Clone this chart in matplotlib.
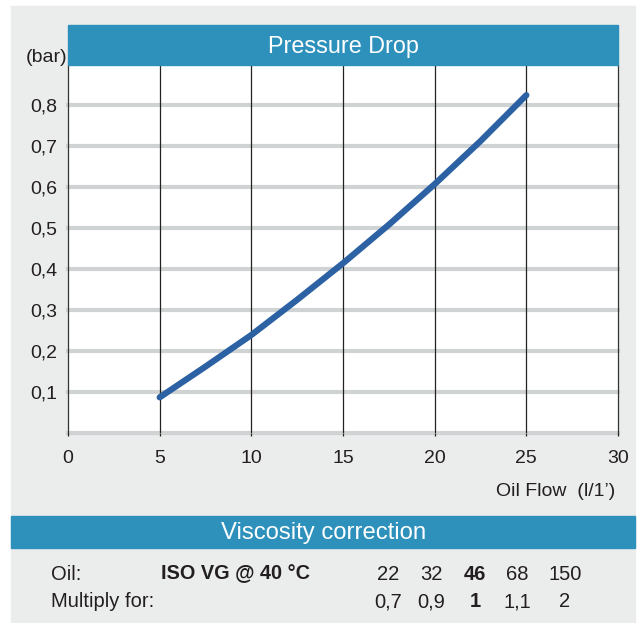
import matplotlib
matplotlib.use("Agg")
import matplotlib.pyplot as plt
from matplotlib.patches import Rectangle
from matplotlib.ticker import FuncFormatter

plt.rcParams['font.family'] = ['Liberation Sans', 'DejaVu Sans']

# curve
flow = [5, 7.5, 10, 12.5, 15, 17.5, 20, 22.5, 25]
pressure = [0.087, 0.162, 0.239, 0.325, 0.414, 0.508, 0.607, 0.712, 0.824]

x_ticks = [0, 5, 10, 15, 20, 25, 30]
y_ticks = [0.1, 0.2, 0.3, 0.4, 0.5, 0.6, 0.7, 0.8]

oil_grades = ['22', '32', '46', '68', '150']
multipliers = ['0,7', '0,9', '1', '1,1', '2']
bold_grade = '46'

W, H = 638, 623
BLUE_BAR = '#2d91bc'
PANEL = '#ebecec'
GRID = '#d0d3d4'
CURVE = '#2c62a3'
TXT = '#231f20'


def fx(px):
    return px / W


def fy(py):
    return 1 - py / H


fig = plt.figure(figsize=(W / 100, H / 100), dpi=100)
fig.patch.set_facecolor('white')

# grey panel and header bars
fig.patches.append(Rectangle((fx(11), 0), fx(635) - fx(11), fy(6),
                             transform=fig.transFigure, color=PANEL, zorder=-5))
fig.patches.append(Rectangle((fx(68), fy(65)), fx(618) - fx(68), fy(25) - fy(65),
                             transform=fig.transFigure, color=BLUE_BAR, zorder=1))
fig.patches.append(Rectangle((fx(11), fy(548)), fx(635) - fx(11), fy(516) - fy(548),
                             transform=fig.transFigure, color=BLUE_BAR, zorder=1))

ax = fig.add_axes([fx(68), fy(433), fx(618) - fx(68), fy(65) - fy(433)])
ax.set_zorder(0)
ax.set_facecolor('white')
ax.set_xlim(0, 30)
ax.set_ylim(0, 0.8976)

for v in [0] + y_ticks:
    ax.axhline(v, color=GRID, lw=3, zorder=1, clip_on=False)
for v in x_ticks[1:-1]:
    ax.axvline(v, color='#222222', lw=0.9, zorder=2)

ax.plot(flow, pressure, color=CURVE, lw=4.5, solid_capstyle='round',
        solid_joinstyle='round', zorder=3)

for s in ['top', 'bottom']:
    ax.spines[s].set_visible(False)
for s in ['left', 'right']:
    ax.spines[s].set_color('#333333')
    ax.spines[s].set_linewidth(0.9)

ax.set_xticks(x_ticks)
ax.set_yticks(y_ticks)
ax.yaxis.set_major_formatter(FuncFormatter(lambda v, p: f"{v:.1f}".replace('.', ',')))
ax.tick_params(axis='x', length=2.5, width=0.9, color='#222222', pad=9.5,
               labelsize=14, labelcolor=TXT)
ax.tick_params(axis='y', length=0, pad=8, labelsize=14, labelcolor=TXT)

fig.text(fx(343), fy(46.5), 'Pressure Drop', color='white', fontsize=16.8,
         ha='center', va='center')
fig.text(fx(67), fy(57), '(bar)', color=TXT, fontsize=14, ha='right', va='center')
fig.text(fx(615), fy(492), 'Oil Flow  (l/1’)', color=TXT, fontsize=14,
         ha='right', va='center')
fig.text(fx(324), fy(533.5), 'Viscosity correction', color='white', fontsize=17.2,
         ha='center', va='center')

fig.text(fx(51), fy(574), 'Oil:', color=TXT, fontsize=14.5, ha='left', va='center')
fig.text(fx(161), fy(574), 'ISO VG @ 40 °C', color=TXT, fontsize=14.3,
         fontweight='bold', ha='left', va='center')
fig.text(fx(51), fy(601.5), 'Multiply for:', color=TXT, fontsize=14.5,
         ha='left', va='center')

col_x = [388, 431, 475, 517, 565]
for cx, g, m in zip(col_x, oil_grades, multipliers):
    w = 'bold' if g == bold_grade else 'normal'
    fig.text(fx(cx), fy(574), g, color=TXT, fontsize=14.5, fontweight=w,
             ha='center', va='center')
    fig.text(fx(cx), fy(601.5), m, color=TXT, fontsize=14.5, fontweight=w,
             ha='center', va='center')

fig.savefig('out.png', dpi=100)
